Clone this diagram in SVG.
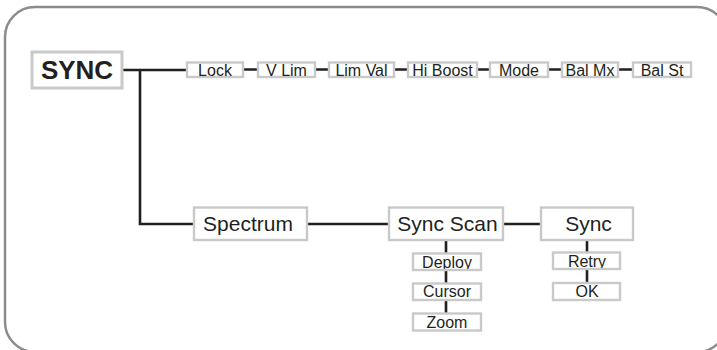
<svg xmlns="http://www.w3.org/2000/svg" width="717" height="350" viewBox="0 0 717 350">
<style>
.frame{fill:none;stroke:#8c8c8c;stroke-width:2.5}
.conn{fill:none;stroke:#231f20;stroke-width:2.6}
.box{fill:#fff;stroke:#c9c9c9;stroke-width:2.4}
.big{fill:#fff;stroke:#c9c9c9;stroke-width:3}
text{font-family:"Liberation Sans",Arial,sans-serif;fill:#231f20;text-anchor:middle}
.t16{font-size:16px}
.t21{font-size:21px}
.t26{font-size:26px;font-weight:bold}
</style>
<rect width="717" height="350" fill="#fff"/>
<rect class="frame" x="5" y="7" width="722" height="345" rx="30" ry="30"/>
<g id="connectors">
<path class="conn" d="M122 70H187"/>
<path class="conn" d="M140 70V224H194"/>
<path class="conn" d="M243 69.5H258M315 69.5H329M394 69.5H408M477 69.5H490M548 69.5H562M618 69.5H633"/>
<path class="conn" d="M307 224H389M503 224H541"/>
<path class="conn" d="M446 240V314"/>
<path class="conn" d="M587 240V284"/>
</g>
<g id="sync-root"><rect class="big" x="32" y="52" width="90" height="36"/><text class="t26" x="77" y="78.5">SYNC</text></g>
<g id="lock"><rect class="box" x="187" y="62.5" width="56" height="14.5"/><text class="t16" x="215" y="76">Lock</text></g>
<g id="vlim"><rect class="box" x="258" y="62.5" width="57" height="14.5"/><text class="t16" x="286.5" y="76">V Lim</text></g>
<g id="limval"><rect class="box" x="329" y="62.5" width="65" height="14.5"/><text class="t16" x="361.5" y="76">Lim Val</text></g>
<g id="hiboost"><rect class="box" x="408" y="62.5" width="69" height="14.5"/><text class="t16" x="442.5" y="76">Hi Boost</text></g>
<g id="mode"><rect class="box" x="490" y="62.5" width="58" height="14.5"/><text class="t16" x="519" y="76">Mode</text></g>
<g id="balmx"><rect class="box" x="562" y="62.5" width="56" height="14.5"/><text class="t16" x="590" y="76">Bal Mx</text></g>
<g id="balst"><rect class="box" x="633" y="62.5" width="58" height="14.5"/><text class="t16" x="662" y="76">Bal St</text></g>
<g id="spectrum"><rect class="box" x="194" y="207.5" width="113" height="32.5"/><text class="t21" x="248" y="231">Spectrum</text></g>
<g id="syncscan"><rect class="box" x="389" y="207.5" width="114" height="32.5"/><text class="t21" x="447.5" y="231">Sync Scan</text></g>
<g id="sync"><rect class="box" x="541" y="207.5" width="92" height="32.5"/><text class="t21" x="588.5" y="231">Sync</text></g>
<g id="deploy"><rect fill="#fff" x="413" y="253.5" width="68" height="16.5"/><text class="t16" x="447" y="267.5">Deploy</text><rect class="box" style="fill:none" x="413" y="253.5" width="68" height="16.5"/></g>
<g id="cursor"><rect class="box" x="413" y="283.5" width="68" height="16.5"/><text class="t16" x="447" y="297">Cursor</text></g>
<g id="zoom"><rect class="box" x="413" y="313.5" width="68" height="17"/><text class="t16" x="447" y="328">Zoom</text></g>
<g id="retry"><rect fill="#fff" x="553" y="252.5" width="67" height="16.5"/><text class="t16" x="587" y="267">Retry</text><rect class="box" style="fill:none" x="553" y="252.5" width="67" height="16.5"/></g>
<g id="ok"><rect class="box" x="553" y="283" width="67" height="17"/><text class="t16" x="587" y="297">OK</text></g>
</svg>
